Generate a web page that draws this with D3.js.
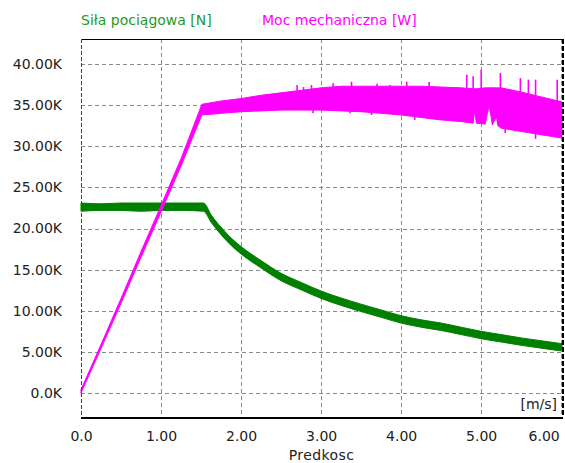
<!DOCTYPE html>
<html>
<head>
<meta charset="utf-8">
<script src="https://cdn.jsdelivr.net/npm/d3@7"></script>
<style>
    body { margin: 0; background: #fff; }
    text { font-family: "DejaVu Sans", sans-serif; }
</style>
</head>
<body>
<div id="chart"></div>
<script>
// tick labels
const speedTicks = [0, 1, 2, 3, 4, 5, 6];
const valueTicks = [0, 5000, 10000, 15000, 20000, 25000, 30000, 35000, 40000];

// traction force band [N]
const forceSpeed = [0, 0.25, 0.5, 0.75, 1.0, 1.25, 1.53, 1.63, 1.75, 1.88, 2.0, 2.25, 2.5, 2.75, 3.0, 3.25, 3.5, 3.75, 4.0, 4.25, 4.5, 4.75, 5.0, 5.25, 5.5, 5.75, 6.01];
const forceLow = [22100, 22200, 22200, 22100, 22200, 22200, 22100, 20700, 19250, 17900, 16900, 15200, 13650, 12550, 11500, 10650, 9900, 9200, 8500, 8000, 7600, 7100, 6600, 6200, 5800, 5450, 5100];
const forceHigh = [23100, 23000, 23100, 23100, 23100, 23100, 23100, 21600, 20150, 18800, 17800, 16100, 14550, 13450, 12400, 11550, 10800, 10100, 9400, 8900, 8500, 8000, 7500, 7100, 6700, 6350, 6000];

// mechanical power band [W]
const powerSpeed = [0, 0.25, 0.5, 0.75, 1.0, 1.25, 1.51, 1.75, 2.0, 2.25, 2.5, 2.75, 3.0, 3.25, 3.5, 3.75, 4.0, 4.25, 4.5, 4.75, 4.9, 4.92, 4.94, 5.05, 5.1, 5.14, 5.19, 5.21, 5.25, 5.5, 5.75, 6.01];
const powerLow = [0, 5400, 10900, 16500, 22000, 27600, 33800, 34000, 34200, 34300, 34400, 34400, 34400, 34300, 34200, 34000, 33800, 33500, 33200, 33000, 32800, 34400, 32800, 32700, 35000, 32600, 33600, 32500, 32200, 31800, 31400, 31000];
const powerHigh = [400, 5900, 11500, 17200, 22800, 28500, 35100, 35500, 35800, 36200, 36500, 36800, 37100, 37300, 37300, 37300, 37300, 37300, 37200, 37100, 37000, 37000, 37000, 37100, 37100, 37100, 37100, 37100, 37100, 36600, 36000, 35400];

// single upward / downward spikes of the power trace
const spikeUpSpeed = [2.7, 2.78, 2.88, 3.15, 3.38, 3.7, 3.86, 4.07, 4.35, 4.82, 4.9, 5.0, 5.24, 5.49, 5.59, 5.68, 5.95];
const spikeUpPower = [37450, 37200, 37450, 37650, 37850, 37600, 37450, 37850, 37800, 38700, 38500, 39300, 38900, 38300, 38100, 38100, 38100];
const spikeDownSpeed = [2.9, 3.36, 3.63, 4.17, 5.3, 5.43, 5.68, 5.95];
const spikeDownPower = [34000, 34000, 33800, 33200, 31600, 31800, 30900, 31200];

const seriesNames = ["Siła pociągowa [N]", "Moc mechaniczna [W]"];
const seriesColors = ["#008000", "#ff00ff"];
const legendColors = ["#1f9a1f", "#ff00ff"];

class TractionChart {

    constructor(_config) {
        this.config = {
            parentElement: _config.parentElement,
            width: 565,
            height: 463,
            left: 81,
            right: 562,
            top: 39,
            bottom: 417
        }
        this.initVis();
    }

    initVis() {
        let vis = this;
        const c = vis.config;

        vis.svg = d3.select(c.parentElement).append("svg")
            .attr("width", c.width)
            .attr("height", c.height);

        vis.x = d3.scaleLinear().domain([0, 6.01]).range([c.left, c.right]);
        vis.y = d3.scaleLinear().domain([-2918, 43040]).range([c.bottom, c.top]);

        vis.drawGrid();
        vis.drawBand(forceSpeed, forceLow, forceHigh, seriesColors[0], d3.curveMonotoneX);
        vis.drawBand(powerSpeed, powerLow, powerHigh, seriesColors[1], d3.curveLinear);
        vis.drawSpikes(spikeUpSpeed, spikeUpPower, powerSpeed, powerHigh, seriesColors[1]);
        vis.drawSpikes(spikeDownSpeed, spikeDownPower, powerSpeed, powerLow, seriesColors[1]);
        vis.drawFrame();
        vis.drawAxes();
        vis.drawLegend();
    }

    drawGrid() {
        let vis = this;
        const c = vis.config;
        const grid = vis.svg.append("g")
            .attr("stroke", "#8a8a8a")
            .attr("stroke-dasharray", "4,3")
            .attr("shape-rendering", "crispEdges");

        grid.selectAll(".vgrid")
            .data(speedTicks.filter(d => d > 0))
            .join("line")
            .attr("x1", d => Math.round(vis.x(d)) + 0.5)
            .attr("x2", d => Math.round(vis.x(d)) + 0.5)
            .attr("y1", c.top)
            .attr("y2", c.bottom);

        grid.selectAll(".hgrid")
            .data(valueTicks)
            .join("line")
            .attr("x1", c.left)
            .attr("x2", c.right)
            .attr("y1", d => Math.round(vis.y(d)) + 0.5)
            .attr("y2", d => Math.round(vis.y(d)) + 0.5);
    }

    drawBand(speed, low, high, color, curve) {
        let vis = this;
        const rows = speed.map((s, i) => ({ s: s, lo: low[i], hi: high[i] }));

        const area = d3.area()
            .curve(curve)
            .x(d => vis.x(d.s))
            .y0(d => vis.y(d.lo))
            .y1(d => vis.y(d.hi));

        vis.svg.append("path")
            .datum(rows)
            .attr("d", area)
            .attr("fill", color)
            .attr("stroke", color)
            .attr("stroke-width", 1);
    }

    // spike from the band edge (interpolated at that speed) to the spike value
    drawSpikes(speed, value, bandSpeed, bandEdge, color) {
        let vis = this;
        const edge = d3.scaleLinear().domain(bandSpeed).range(bandEdge);

        vis.svg.append("g")
            .selectAll("line")
            .data(speed.map((s, i) => ({ s: s, v: value[i] })))
            .join("line")
            .attr("x1", d => vis.x(d.s))
            .attr("x2", d => vis.x(d.s))
            .attr("y1", d => vis.y(edge(d.s)))
            .attr("y2", d => vis.y(d.v))
            .attr("stroke", color)
            .attr("stroke-width", 1.6);
    }

    drawFrame() {
        let vis = this;
        const c = vis.config;
        const frame = vis.svg.append("g").attr("shape-rendering", "crispEdges");

        frame.append("line")
            .attr("x1", c.left).attr("x2", c.right + 1)
            .attr("y1", c.top + 0.5).attr("y2", c.top + 0.5)
            .attr("stroke", "#000");
        frame.append("line")
            .attr("x1", c.left).attr("x2", c.right + 1)
            .attr("y1", c.bottom + 1).attr("y2", c.bottom + 1)
            .attr("stroke", "#000").attr("stroke-width", 2);
        frame.append("line")
            .attr("x1", c.left + 0.5).attr("x2", c.left + 0.5)
            .attr("y1", c.top).attr("y2", c.bottom)
            .attr("stroke", "#444").attr("stroke-dasharray", "4,2");
        frame.append("line")
            .attr("x1", c.right + 1).attr("x2", c.right + 1)
            .attr("y1", c.top).attr("y2", c.bottom)
            .attr("stroke", "#000").attr("stroke-width", 2).attr("stroke-dasharray", "5,2");
    }

    drawAxes() {
        let vis = this;
        const c = vis.config;

        const yAxis = d3.axisLeft(vis.y)
            .tickValues(valueTicks)
            .tickSize(0)
            .tickPadding(19)
            .tickFormat(d => d === 0 ? "0.0K" : (d / 1000).toFixed(2) + "K");

        const xAxis = d3.axisBottom(vis.x)
            .tickValues(speedTicks)
            .tickSize(0)
            .tickPadding(14)
            .tickFormat(d => d === 0 ? "0.0" : d.toFixed(2));

        const gy = vis.svg.append("g")
            .attr("transform", `translate(${c.left},0)`)
            .call(yAxis);
        const gx = vis.svg.append("g")
            .attr("transform", `translate(0,${c.bottom})`)
            .call(xAxis);

        [gx, gy].forEach(g => {
            g.select(".domain").remove();
            g.selectAll("text")
                .attr("fill", "#222")
                .style("font-size", "14px")
                .style("font-family", "'DejaVu Sans', sans-serif");
        });

        // last speed label is pushed inside the window
        gx.selectAll(".tick text")
            .filter(d => d === speedTicks[speedTicks.length - 1])
            .attr("text-anchor", "end")
            .attr("dx", -2);

        // axis title and unit
        vis.svg.append("text")
            .attr("x", (c.left + c.right) / 2)
            .attr("y", 460)
            .attr("text-anchor", "middle")
            .attr("font-size", 14)
            .attr("letter-spacing", 0.4)
            .attr("fill", "#222")
            .text("Predkosc");

        vis.svg.append("text")
            .attr("x", 557)
            .attr("y", 409)
            .attr("text-anchor", "end")
            .attr("font-size", 14)
            .attr("fill", "#222")
            .text("[m/s]");
    }

    drawLegend() {
        let vis = this;
        const legendX = [81, 262];

        vis.svg.selectAll(".legend")
            .data(seriesNames)
            .join("text")
            .attr("x", (d, i) => legendX[i])
            .attr("y", 25)
            .attr("font-size", 14)
            .attr("fill", (d, i) => legendColors[i])
            .text(d => d);
    }
}

new TractionChart({ parentElement: "#chart" });
</script>
</body>
</html>
